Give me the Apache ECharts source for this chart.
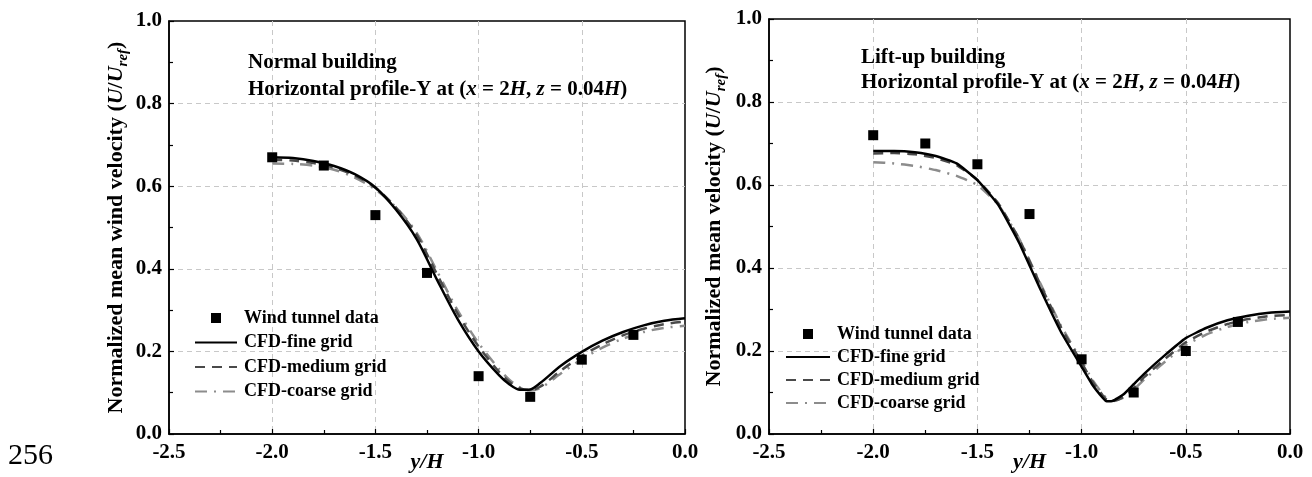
<!DOCTYPE html>
<html>
<head>
<meta charset="utf-8">
<script src="https://cdn.jsdelivr.net/npm/echarts@6/dist/echarts.min.js"></script>
<style>
html,body{margin:0;padding:0;background:#fff;}
#chart{width:1312px;height:477px;}
</style>
</head>
<body>
<div id="chart"></div>
<script>
// ---- data ----
const expX = [-2.0, -1.75, -1.5, -1.25, -1.0, -0.75, -0.5, -0.25];
const normalExp = [0.67, 0.65, 0.53, 0.39, 0.14, 0.09, 0.18, 0.24];
const liftExp = [0.72, 0.70, 0.65, 0.53, 0.18, 0.10, 0.20, 0.27];

const normalCfdX = [-2.0, -1.9, -1.8, -1.7, -1.6, -1.5, -1.4, -1.3, -1.2, -1.1, -1.0, -0.9, -0.85, -0.8, -0.75, -0.7, -0.6, -0.5, -0.4, -0.3, -0.2, -0.1, 0.0];
const normalFine   = [0.670, 0.668, 0.661, 0.649, 0.629, 0.597, 0.543, 0.472, 0.372, 0.277, 0.200, 0.142, 0.120, 0.107, 0.108, 0.124, 0.166, 0.199, 0.226, 0.247, 0.263, 0.274, 0.280];
const normalMedium = [0.664, 0.662, 0.656, 0.645, 0.626, 0.596, 0.548, 0.482, 0.385, 0.290, 0.212, 0.150, 0.126, 0.111, 0.106, 0.115, 0.154, 0.189, 0.217, 0.239, 0.255, 0.266, 0.272];
const normalCoarse = [0.655, 0.654, 0.650, 0.640, 0.621, 0.592, 0.549, 0.487, 0.393, 0.298, 0.220, 0.157, 0.131, 0.113, 0.106, 0.111, 0.147, 0.181, 0.209, 0.231, 0.247, 0.257, 0.262];

const liftCfdX = [-2.0, -1.9, -1.8, -1.7, -1.6, -1.5, -1.4, -1.3, -1.2, -1.1, -1.0, -0.95, -0.9, -0.88, -0.85, -0.8, -0.75, -0.7, -0.6, -0.5, -0.4, -0.3, -0.2, -0.1, 0.0];
const liftFine   = [0.682, 0.682, 0.679, 0.670, 0.652, 0.612, 0.552, 0.461, 0.351, 0.247, 0.162, 0.120, 0.088, 0.079, 0.080, 0.095, 0.120, 0.145, 0.190, 0.231, 0.256, 0.274, 0.285, 0.292, 0.295];
const liftMedium = [0.676, 0.677, 0.674, 0.665, 0.648, 0.612, 0.556, 0.470, 0.362, 0.258, 0.172, 0.128, 0.094, 0.083, 0.079, 0.089, 0.111, 0.137, 0.181, 0.221, 0.247, 0.265, 0.277, 0.284, 0.287];
const liftCoarse = [0.655, 0.652, 0.646, 0.636, 0.622, 0.600, 0.553, 0.471, 0.365, 0.262, 0.176, 0.132, 0.097, 0.086, 0.080, 0.087, 0.107, 0.131, 0.174, 0.214, 0.240, 0.258, 0.270, 0.277, 0.280];

const seriesNames = ['Wind tunnel data', 'CFD-fine grid', 'CFD-medium grid', 'CFD-coarse grid'];
const panelTitles = ['Normal building', 'Lift-up building'];
const yAxisNames = ['Normalized mean wind velocity', 'Normalized mean velocity'];
const pageNumber = '256';

// ---- helpers ----
const SERIF = "'Liberation Serif','Times New Roman',serif";
const pairs = (xs, ys) => xs.map((x, i) => [x, ys[i]]);

const styles = {
  fine:   { color: '#000000', width: 2.5, type: 'solid' },
  medium: { color: '#4a4a4a', width: 2.5, type: [10, 7] },
  coarse: { color: '#8c8c8c', width: 2.5, type: [12, 7, 2, 7] }
};

function lineSeries(name, xs, ys, st, idx, smooth) {
  return {
    type: 'line', name: name, xAxisIndex: idx, yAxisIndex: idx,
    data: pairs(xs, ys), symbol: 'none', smooth: smooth,
    lineStyle: { color: st.color, width: st.width, type: st.type },
    itemStyle: { color: st.color },
    z: 3, silent: true, animation: false
  };
}
function scatterSeries(xs, ys, idx) {
  return {
    type: 'scatter', name: seriesNames[0], xAxisIndex: idx, yAxisIndex: idx,
    data: pairs(xs, ys), symbol: 'rect', symbolSize: 10,
    itemStyle: { color: '#000', opacity: 1 }, z: 5, silent: true, animation: false
  };
}

const grids = [
  { left: 169, top: 21, width: 516, height: 413 },
  { left: 769, top: 19, width: 521, height: 415 }
];

function xAxis(idx) {
  return {
    type: 'value', gridIndex: idx, min: -2.5, max: 0, interval: 0.5,
    name: 'y/H', nameLocation: 'middle', nameGap: 17, nameMoveOverlap: false,
    nameTextStyle: { fontFamily: SERIF, fontSize: 22, fontWeight: 'bold', fontStyle: 'italic', color: '#000' },
    axisLine: { onZero: false, lineStyle: { color: '#000', width: 1.5 } },
    axisTick: { inside: true, length: 5, lineStyle: { color: '#000', width: 1.2 } },
    minorTick: { show: true, splitNumber: 2, length: 4, lineStyle: { color: '#000', width: 1.2 } },
    axisLabel: { margin: 8, fontFamily: SERIF, fontSize: 21, fontWeight: 'bold', color: '#000',
      formatter: v => v.toFixed(1) },
    splitLine: { show: true, showMinLine: false, showMaxLine: false, lineStyle: { color: '#c8c8c8', width: 1, type: [5, 4] } }
  };
}
function yAxis(idx, title, gap) {
  return {
    type: 'value', gridIndex: idx, min: 0, max: 1, interval: 0.2,
    name: title + ' ({i|U}/{i|U}{s|ref})', nameLocation: 'middle', nameGap: gap, nameMoveOverlap: false,
    nameTextStyle: {
      fontFamily: SERIF, fontSize: 22, fontWeight: 'bold', color: '#000',
      rich: {
        i: { fontFamily: SERIF, fontSize: 22, fontWeight: 'bold', fontStyle: 'italic', color: '#000' },
        s: { fontFamily: SERIF, fontSize: 15, fontWeight: 'bold', fontStyle: 'italic', color: '#000', padding: [14, 0, 0, 0] }
      }
    },
    axisLine: { onZero: false, lineStyle: { color: '#000', width: 1.5 } },
    axisTick: { inside: true, length: 5, lineStyle: { color: '#000', width: 1.2 } },
    minorTick: { show: true, splitNumber: 2, length: 4, lineStyle: { color: '#000', width: 1.2 } },
    axisLabel: { margin: 7, fontFamily: SERIF, fontSize: 21, fontWeight: 'bold', color: '#000',
      formatter: v => v.toFixed(1) },
    splitLine: { show: true, showMinLine: false, showMaxLine: false, lineStyle: { color: '#c8c8c8', width: 1, type: [5, 4] } }
  };
}
function titleOpt(idx, left, top, lh) {
  return {
    text: panelTitles[idx] + '\nHorizontal profile-Y at ({i|x} = 2{i|H}, {i|z} = 0.04{i|H})',
    left: left, top: top, padding: 0,
    textStyle: {
      fontFamily: SERIF, fontSize: 21, fontWeight: 'bold', color: '#000', lineHeight: lh,
      rich: { i: { fontFamily: SERIF, fontSize: 21, fontWeight: 'bold', fontStyle: 'italic', color: '#000', lineHeight: lh } }
    }
  };
}
function legendOpt(left, top, gap, w) {
  return {
    orient: 'vertical', left: left, top: top, padding: 0, itemGap: gap,
    itemWidth: w, itemHeight: 10, selectedMode: false,
    textStyle: { fontFamily: SERIF, fontSize: 18, fontWeight: 'bold', color: '#000', lineHeight: 20, padding: [0, 0, 0, 2] },
    data: [
      { name: seriesNames[0], icon: 'path://M0,0H10V10H0Z', itemStyle: { color: '#000', opacity: 1 } },
      { name: seriesNames[1], itemStyle: { opacity: 0 } },
      { name: seriesNames[2], itemStyle: { opacity: 0 } },
      { name: seriesNames[3], itemStyle: { opacity: 0 } }
    ]
  };
}

const chart = echarts.init(document.getElementById('chart'), null, { renderer: 'canvas' });
chart.setOption({
  backgroundColor: '#ffffff',
  animation: false,
  title: [titleOpt(0, 248, 49, 27), titleOpt(1, 861, 45, 25)],
  legend: [legendOpt(194, 308, 4.5, 42), legendOpt(785, 324, 3, 44)],
  grid: grids.map(g => Object.assign({ show: true, borderColor: '#000', borderWidth: 1.5, backgroundColor: 'transparent', containLabel: false, outerBoundsMode: 'none' }, g)),
  xAxis: [xAxis(0), xAxis(1)],
  yAxis: [yAxis(0, yAxisNames[0], 38), yAxis(1, yAxisNames[1], 40)],
  series: [
    lineSeries(seriesNames[3], normalCfdX, normalCoarse, styles.coarse, 0, 0.3),
    lineSeries(seriesNames[2], normalCfdX, normalMedium, styles.medium, 0, 0.3),
    lineSeries(seriesNames[1], normalCfdX, normalFine, styles.fine, 0, 0.3),
    scatterSeries(expX, normalExp, 0),
    lineSeries(seriesNames[3], liftCfdX, liftCoarse, styles.coarse, 1, 0.15),
    lineSeries(seriesNames[2], liftCfdX, liftMedium, styles.medium, 1, 0.15),
    lineSeries(seriesNames[1], liftCfdX, liftFine, styles.fine, 1, 0.15),
    scatterSeries(expX, liftExp, 1)
  ],
  graphic: [{
    type: 'text', left: 8, top: 441,
    style: { text: pageNumber, font: "30px 'Liberation Serif','Times New Roman',serif", fill: '#000' }
  }]
});
</script>
</body>
</html>
